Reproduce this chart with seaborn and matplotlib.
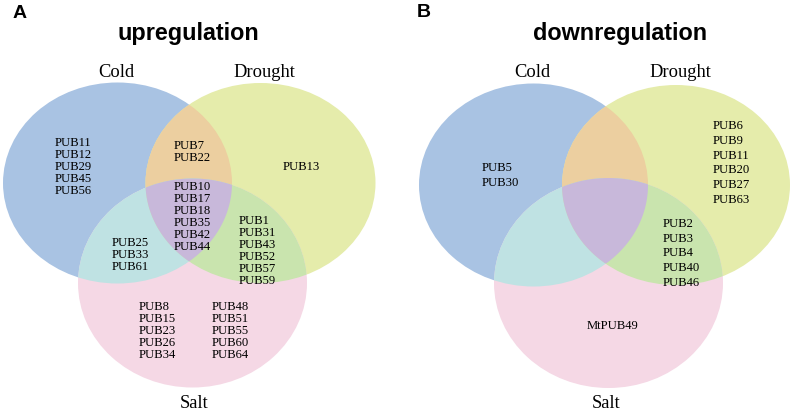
import numpy as np
import matplotlib
matplotlib.use("Agg")
import matplotlib.pyplot as plt
import seaborn as sns
from matplotlib.patches import Ellipse, Polygon

# ---------------- data ----------------
set_names = ["Cold", "Drought", "Salt"]
panel_letters = ["A", "B"]
panel_titles = ["upregulation", "downregulation"]

# upregulation regions
up_cold_only = ["PUB11", "PUB12", "PUB29", "PUB45", "PUB56"]
up_cold_drought = ["PUB7", "PUB22"]
up_drought_only = ["PUB13"]
up_all_three = ["PUB10", "PUB17", "PUB18", "PUB35", "PUB42", "PUB44"]
up_cold_salt = ["PUB25", "PUB33", "PUB61"]
up_drought_salt = ["PUB1", "PUB31", "PUB43", "PUB52", "PUB57", "PUB59"]
up_salt_only_a = ["PUB8", "PUB15", "PUB23", "PUB26", "PUB34"]
up_salt_only_b = ["PUB48", "PUB51", "PUB55", "PUB60", "PUB64"]

# downregulation regions
down_cold_only = ["PUB5", "PUB30"]
down_drought_only = ["PUB6", "PUB9", "PUB11", "PUB20", "PUB27", "PUB63"]
down_drought_salt = ["PUB2", "PUB3", "PUB4", "PUB40", "PUB46"]
down_salt_only = ["MtPUB49"]

# ---------------- style ----------------
sns.set_theme(style="white")
plt.rcParams['font.family'] = ['Liberation Serif', 'DejaVu Serif']
plt.rcParams['text.color'] = 'black'

C_COLD = "#a9c3e3"
C_DROUGHT = "#e5ecab"
C_SALT = "#f5d8e5"
C_CD = "#eccfa0"
C_CS = "#bfe2e3"
C_DS = "#c9e4ae"
C_CDS = "#c8b8da"

fig = plt.figure(figsize=(7.94, 4.12), dpi=100)
ax = fig.add_axes([0, 0, 1, 1])
ax.set_xlim(0, 794)
ax.set_ylim(412, 0)
ax.set_axis_off()


def ellipse_points(cx, cy, w, h, n=720):
    t = np.linspace(0, 2 * np.pi, n, endpoint=False)
    return np.column_stack([cx + w / 2 * np.cos(t), cy + h / 2 * np.sin(t)])


def inside(pts, e):
    cx, cy, w, h = e
    return ((pts[:, 0] - cx) / (w / 2)) ** 2 + ((pts[:, 1] - cy) / (h / 2)) ** 2 <= 1


def intersection_poly(ells):
    pts = []
    for i, e in enumerate(ells):
        p = ellipse_points(*e)
        m = np.ones(len(p), bool)
        for j, f in enumerate(ells):
            if j != i:
                m &= inside(p, f)
        pts.append(p[m])
    pts = np.vstack(pts)
    c = pts.mean(axis=0)
    ang = np.arctan2(pts[:, 1] - c[1], pts[:, 0] - c[0])
    return pts[np.argsort(ang)]


def draw_venn(cold, drought, salt):
    def ell(e, color, clip=None):
        p = Ellipse((e[0], e[1]), e[2], e[3], facecolor=color, edgecolor="none", lw=0)
        ax.add_patch(p)
        if clip is not None:
            p.set_clip_path(clip)
        return p

    ell(cold, C_COLD)
    ell(drought, C_DROUGHT)
    ell(salt, C_SALT)
    # pairwise overlaps
    ell(drought, C_CD, clip=Ellipse((cold[0], cold[1]), cold[2], cold[3], transform=ax.transData))
    ell(salt, C_CS, clip=Ellipse((cold[0], cold[1]), cold[2], cold[3], transform=ax.transData))
    ell(salt, C_DS, clip=Ellipse((drought[0], drought[1]), drought[2], drought[3], transform=ax.transData))
    # triple overlap
    poly = intersection_poly([cold, drought, salt])
    ax.add_patch(Polygon(poly, closed=True, facecolor=C_CDS, edgecolor="none", lw=0))


def gene_block(genes, x, yc, spacing, fs=9.1):
    n = len(genes)
    y0 = yc - (n - 1) * spacing / 2
    for i, g in enumerate(genes):
        ax.text(x, y0 + i * spacing, g, ha="left", va="center", fontsize=fs, color="black")


sans_bold = dict(fontweight="bold", family=["Liberation Sans", "DejaVu Sans"], color="black")

# ---- Panel A ----
A_cold = (117.5, 183, 229, 201)
A_drought = (260.5, 183, 230, 200)
A_salt = (192.5, 283, 229, 209)
draw_venn(A_cold, A_drought, A_salt)

sp = 12.1
gene_block(up_cold_only, 55, 167, sp)
gene_block(up_cold_drought, 174, 152, sp)
gene_block(up_drought_only, 283, 167, sp)
gene_block(up_all_three, 174, 217, sp)
gene_block(up_cold_salt, 112, 255, sp)
gene_block(up_drought_salt, 239, 251, sp)
gene_block(up_salt_only_a, 139, 331, sp)
gene_block(up_salt_only_b, 212, 331, sp)

ax.text(116, 72, set_names[0], ha="center", va="center", fontsize=13.3, color="black")
ax.text(264, 72, set_names[1], ha="center", va="center", fontsize=13.3, color="black")
ax.text(194, 403, set_names[2], ha="center", va="center", fontsize=13.3, color="black")

ax.text(188, 33, panel_titles[0], ha="center", va="center", fontsize=16.8, **sans_bold)
ax.text(20, 13, panel_letters[0], ha="center", va="center", fontsize=14, **sans_bold)

# ---- Panel B ----
B_cold = (533.5, 185, 229, 203)
B_drought = (676, 185, 228, 200)
B_salt = (608.5, 283, 229, 210)
draw_venn(B_cold, B_drought, B_salt)

spb = 14.8
gene_block(down_cold_only, 482, 175.5, spb)
gene_block(down_drought_only, 713, 163, spb)
gene_block(down_drought_salt, 663, 253.5, spb)
gene_block(down_salt_only, 587, 326, spb)

ax.text(532, 72, set_names[0], ha="center", va="center", fontsize=13.3, color="black")
ax.text(680, 72, set_names[1], ha="center", va="center", fontsize=13.3, color="black")
ax.text(606, 403, set_names[2], ha="center", va="center", fontsize=13.3, color="black")

ax.text(620, 33, panel_titles[1], ha="center", va="center", fontsize=16.8, **sans_bold)
ax.text(424, 12, panel_letters[1], ha="center", va="center", fontsize=14, **sans_bold)

fig.savefig("out.png", dpi=100, facecolor="white")
